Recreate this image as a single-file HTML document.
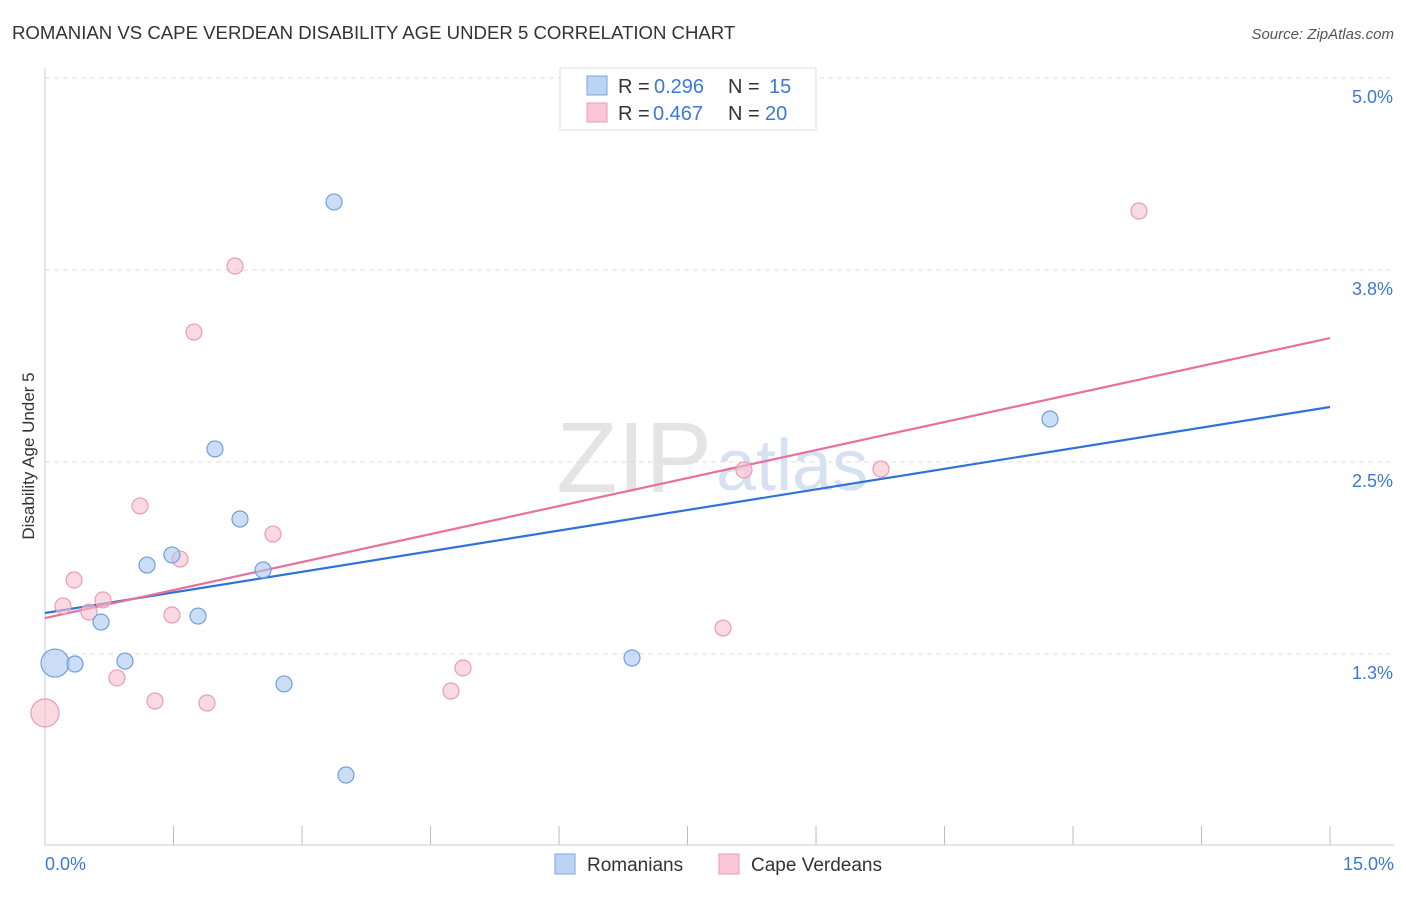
<!DOCTYPE html>
<html><head><meta charset="utf-8"><style>
body{margin:0;background:#fff;font-family:"Liberation Sans",sans-serif;}
svg text{font-family:"Liberation Sans",sans-serif;}
</style></head><body>
<svg id="c" width="1406" height="892" xmlns="http://www.w3.org/2000/svg">
<text x="12" y="39" font-size="18.6" fill="#333">ROMANIAN VS CAPE VERDEAN DISABILITY AGE UNDER 5 CORRELATION CHART</text>
<text x="1394" y="39" font-size="15" fill="#555" font-style="italic" text-anchor="end">Source: ZipAtlas.com</text>
<text x="712" y="492" font-size="100" fill="#e4e4e4" text-anchor="end" font-family="Liberation Serif">ZIP</text>
<text x="716" y="490" font-size="72" fill="#d6e2f2">atlas</text>
<g id="grid"></g>
<line x1="45" y1="68" x2="45" y2="845" stroke="#ccc"/>
<line x1="45" y1="845" x2="1394" y2="845" stroke="#ccc"/>
<text x="34" y="456" font-size="17" fill="#333" text-anchor="middle" transform="rotate(-90 34 456)">Disability Age Under 5</text>
<text x="45" y="870" font-size="18" fill="#3b78d8">0.0%</text>
<text x="1394" y="870" font-size="18" fill="#3b78d8" text-anchor="end">15.0%</text>
<g id="lines"></g>
<g id="pts"></g>
<g>
<rect x="560" y="68" width="256" height="62" fill="#fff" stroke="#ddd"/>
<rect x="587" y="76" width="20" height="19" fill="#bcd4f4" stroke="#7aa6e0"/>
<text x="618" y="93" font-size="20" fill="#333">R =</text>
<text x="654" y="93" font-size="20" fill="#3b78d8">0.296</text>
<text x="728" y="93" font-size="20" fill="#333">N =</text>
<text x="769" y="93" font-size="20" fill="#3b78d8">15</text>
<rect x="587" y="103" width="20" height="19" fill="#f9c6d5" stroke="#ee9ab4"/>
<text x="618" y="120" font-size="20" fill="#333">R =</text>
<text x="653" y="120" font-size="20" fill="#3b78d8">0.467</text>
<text x="728" y="120" font-size="20" fill="#333">N =</text>
<text x="765" y="120" font-size="20" fill="#3b78d8">20</text>
</g>
<g>
<rect x="555" y="854" width="20" height="20" fill="#bcd4f4" stroke="#7aa6e0"/>
<text x="587" y="871" font-size="19" fill="#333">Romanians</text>
<rect x="719" y="854" width="20" height="20" fill="#f9c6d5" stroke="#ee9ab4"/>
<text x="751" y="871" font-size="19" fill="#333">Cape Verdeans</text>
</g>
</svg>
<script>
const yTicks=[1.25,2.5,3.75,5.0];
const yTickLabels=["1.3%","2.5%","3.8%","5.0%"];
const xTicks=[0,1.5,3,4.5,6,7.5,9,10.5,12,13.5,15];
const romX=[0.117,0.350,0.654,0.934,1.191,1.482,1.786,1.984,2.276,2.545,2.790,3.374,3.513,6.852,11.731];
const romY=[1.191,1.185,1.458,1.204,1.829,1.895,1.497,2.585,2.129,1.797,1.055,4.193,0.462,1.224,2.780];
const romBig=[true,false,false,false,false,false,false,false,false,false,false,false,false,false,false];
const cvX=[0,0.210,0.339,0.514,0.677,0.840,1.109,1.284,1.482,1.576,1.739,1.891,2.218,2.661,4.739,4.879,7.914,8.159,9.758,12.770];
const cvY=[0.866,1.563,1.732,1.523,1.602,1.094,2.214,0.944,1.504,1.868,3.346,0.931,3.776,2.031,1.009,1.159,1.419,2.448,2.454,4.134];
const cvBig=[true,false,false,false,false,false,false,false,false,false,false,false,false,false,false,false,false,false,false,false];
const romTrend=[1.517,2.858];
const cvTrend=[1.484,3.307];
const X=v=>45+v*85.67, Y=v=>78+(5-v)*153.6;
const NS="http://www.w3.org/2000/svg";
function mk(t,a,p){const e=document.createElementNS(NS,t);for(const k in a)e.setAttribute(k,a[k]);p.appendChild(e);return e;}
const g=document.getElementById('grid');
yTicks.forEach((v,i)=>{
 const l=mk('line',{x1:45,x2:1394,y1:Y(v),y2:Y(v),stroke:'#ddd','stroke-dasharray':'5,4'},g);
 
 
 const t=mk('text',{x:1393,y:Y(v)+25,'font-size':18,fill:'#3b78d8','text-anchor':'end'},g);
 t.textContent=yTickLabels[i];
 
 
});
xTicks.forEach(v=>{
 const l=mk('line',{x1:X(v),x2:X(v),y1:826,y2:845,stroke:'#bbb'},g);
 
 
});
const ln=document.getElementById('lines');
[[romTrend,'#2f73d9','romanian-trendline'],[cvTrend,'#e8709a','cape-verdean-trendline']].forEach(([t,c,n])=>{
 const l=mk('line',{x1:X(0),y1:Y(t[0]),x2:X(15),y2:Y(t[1]),stroke:c,'stroke-width':2.2},ln);
 
 
});
const p=document.getElementById('pts');
function pts(xs,ys,big,fill,stroke,name){
 xs.forEach((x,i)=>{
  const c=mk('circle',{cx:X(x),cy:Y(ys[i]),r:big[i]?14:8,fill:fill,'fill-opacity':0.6,stroke:stroke,'stroke-width':1.2},p);
  
  
 });
}
pts(cvX,cvY,cvBig,'#f8bfd0','#ee9ab4','cape-verdean-point');
pts(romX,romY,romBig,'#aac8f0','#6f9fe0','romanian-point');
</script>
</body></html>
